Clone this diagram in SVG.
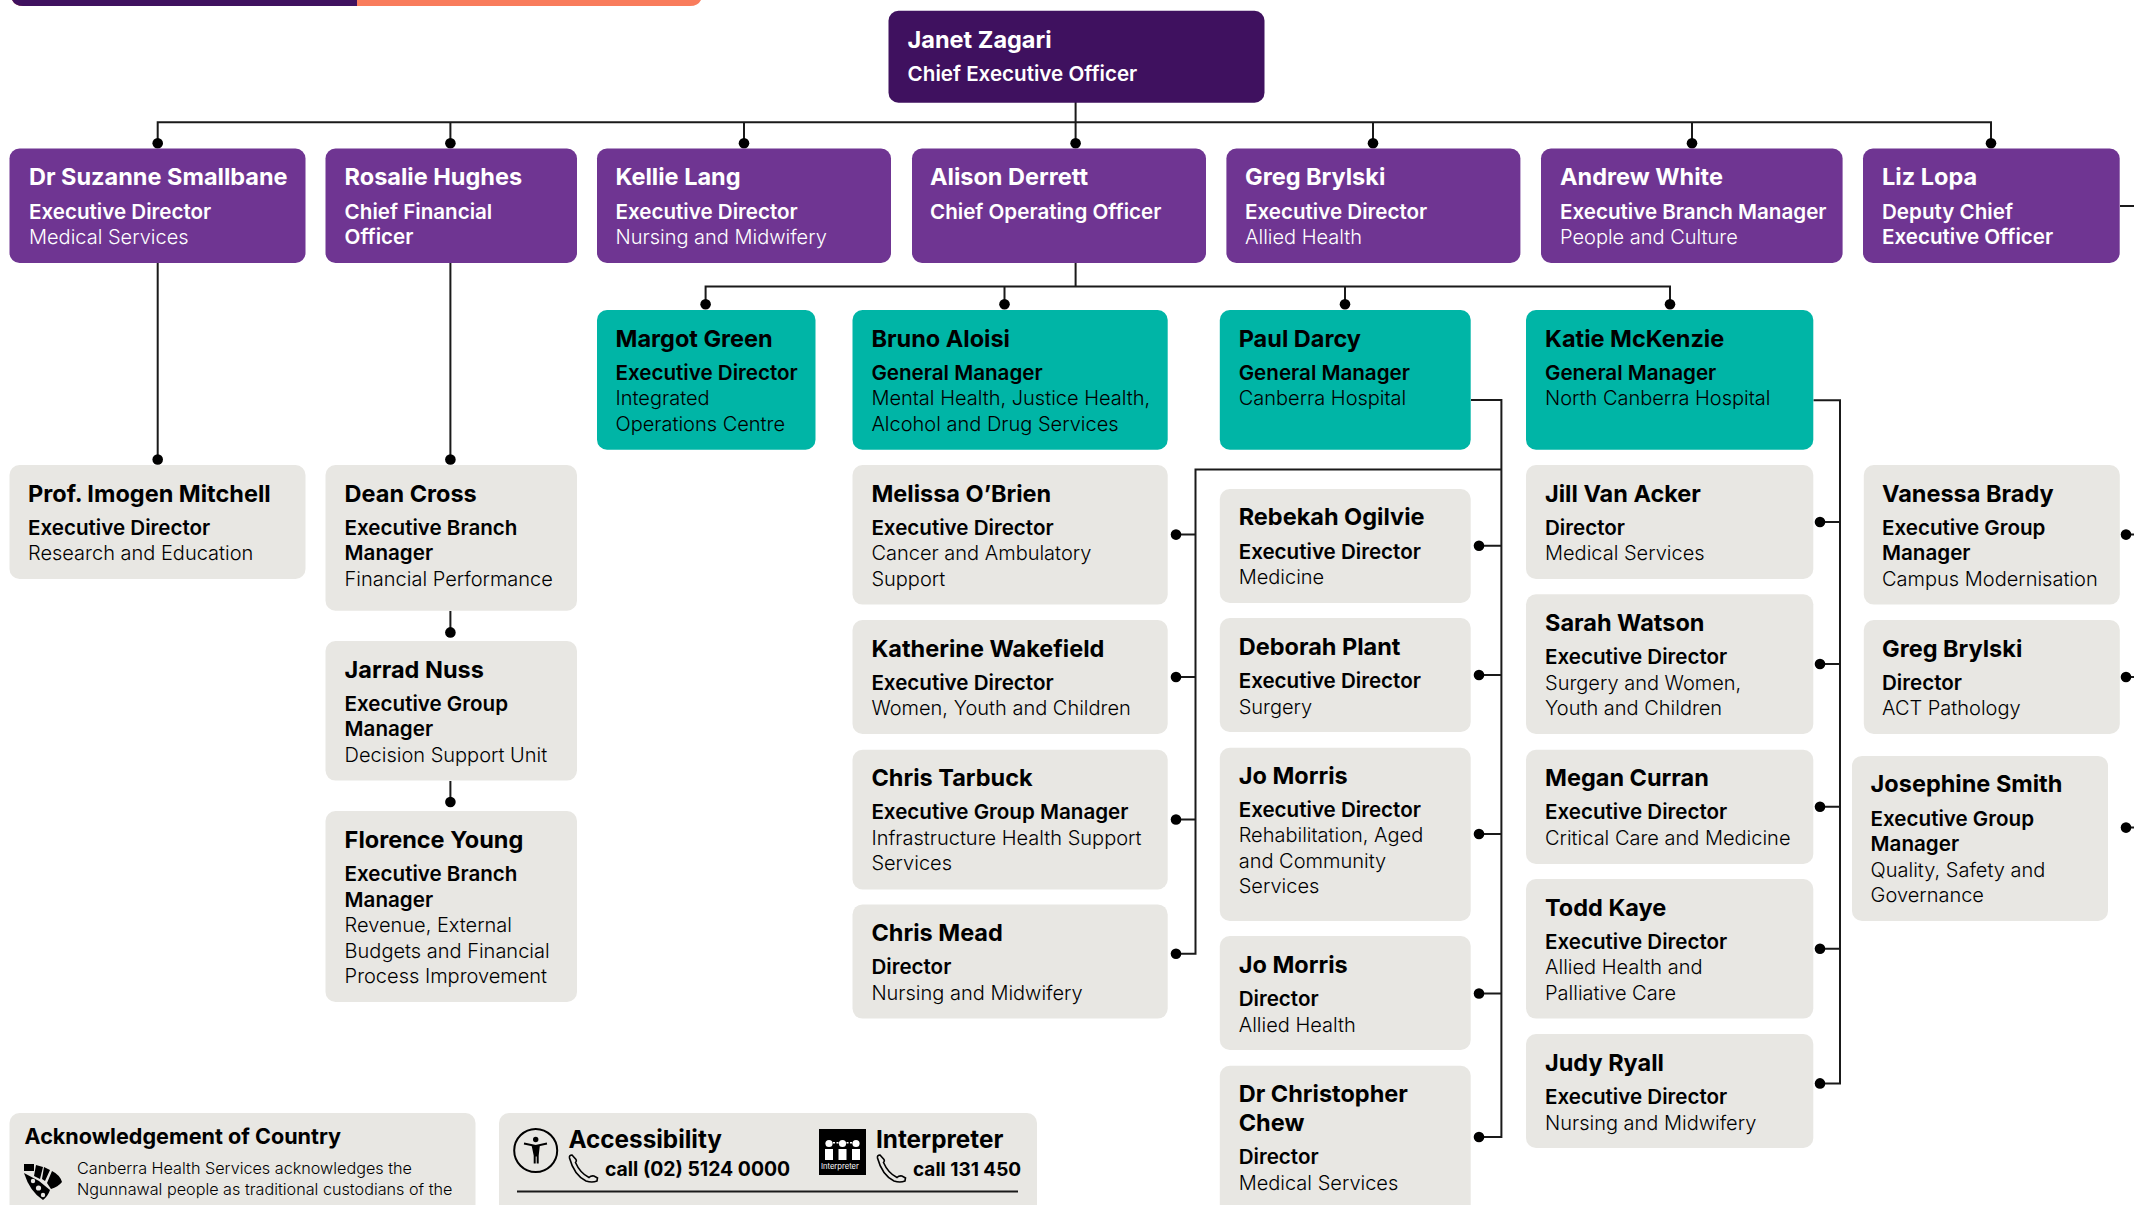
<svg xmlns="http://www.w3.org/2000/svg" width="2134" height="1205" viewBox="0 0 2134 1205">
<style>
text{font-family:Inter,"Liberation Sans",sans-serif}
.n{font-size:23.5px;font-weight:700;fill:#000}
.t{font-size:20.6px;font-weight:600;fill:#000}
.s{font-size:20px;font-weight:300;fill:#000}
.w .n,.w .t,.w .s{fill:#fff}
.ceo{fill:#3f115f}.pu{fill:#6f3592}.te{fill:#00b5a6}.gr{fill:#e8e7e3}
.l{fill:none;stroke:#1a1a1a;stroke-width:2}
.d{fill:#000}
</style>
<rect width="2134" height="1205" fill="#fff"/>
<g id="top-bar">
<path d="M12 0H701V0Q698 6 690 6H23Q15 6 12 0Z" fill="#f97c5c"/>
<path d="M12 0H357V6H23Q15 6 12 0Z" fill="#3f115f"/>
</g>
<g id="connectors">
<path class="l" d="M157.700 143V122.300H1991V143M450.400 122.300V143M744 122.300V143M1075.600 102V148M1373 122.300V143M1692 122.300V143"/>
<path class="l" d="M157.700 263V459M450.400 263V459M450.400 611V632M450.400 781V802"/>
<path class="l" d="M1075.600 263V286.600M705.600 304V286.600H1670V304M1004.500 286.600V304M1345 286.600V304"/>
<path class="l" d="M1471 400H1501.400V1137H1479M1479 545.700H1501.400M1479 675H1501.400M1479 834H1501.400M1479 993.500H1501.400"/>
<path class="l" d="M1501.400 469.600H1195.500V953.800H1176M1176 534.600H1195.500M1176 677H1195.500M1176 819.500H1195.500"/>
<path class="l" d="M1813.500 400.300H1840V1083.400H1820M1820 522H1840M1820 664H1840M1820 806.800H1840M1820 948.800H1840"/>
<path class="l" d="M2120 206H2134M2126 534.600H2134M2126 677H2134M2126 827.600H2134"/>
<g class="d">
<circle cx="157.700" cy="143.300" r="5.300"/><circle cx="450.400" cy="143.300" r="5.300"/><circle cx="744" cy="143.300" r="5.300"/><circle cx="1075.600" cy="143.300" r="5.300"/><circle cx="1373" cy="143.300" r="5.300"/><circle cx="1692" cy="143.300" r="5.300"/><circle cx="1991" cy="143.300" r="5.300"/>
<circle cx="705.600" cy="304.300" r="5.300"/><circle cx="1004.500" cy="304.300" r="5.300"/><circle cx="1345" cy="304.300" r="5.300"/><circle cx="1670" cy="304.300" r="5.300"/>
<circle cx="157.700" cy="459.500" r="5.300"/><circle cx="450.400" cy="459.500" r="5.300"/><circle cx="450.400" cy="632.400" r="5.300"/><circle cx="450.400" cy="802" r="5.300"/>
<circle cx="1176" cy="534.600" r="5.300"/><circle cx="1176" cy="677" r="5.300"/><circle cx="1176" cy="819.500" r="5.300"/><circle cx="1176" cy="953.800" r="5.300"/>
<circle cx="1479" cy="545.700" r="5.300"/><circle cx="1479" cy="675" r="5.300"/><circle cx="1479" cy="834" r="5.300"/><circle cx="1479" cy="993.500" r="5.300"/><circle cx="1479" cy="1137" r="5.300"/>
<circle cx="1820" cy="522" r="5.300"/><circle cx="1820" cy="664" r="5.300"/><circle cx="1820" cy="806.800" r="5.300"/><circle cx="1820" cy="948.800" r="5.300"/><circle cx="1820" cy="1083.400" r="5.300"/>
<circle cx="2126" cy="534.600" r="5.300"/><circle cx="2126" cy="677" r="5.300"/><circle cx="2126" cy="827.600" r="5.300"/>
</g>
</g>
<g id="janet" class="w"><rect class="ceo" x="888.500" y="10.700" width="376" height="92" rx="10"/><text class="n" x="907.600" y="48">Janet Zagari</text><text class="t" x="907.600" y="81">Chief Executive Officer</text></g>
<g id="suzanne" class="w"><rect class="pu" x="9.500" y="148.500" width="296" height="114.500" rx="10"/><text class="n" x="29" y="185">Dr Suzanne Smallbane</text><text class="t" x="29" y="219">Executive Director</text><text class="s" x="29" y="244">Medical Services</text></g>
<g id="rosalie" class="w"><rect class="pu" x="325.500" y="148.500" width="251.500" height="114.500" rx="10"/><text class="n" x="344.600" y="185">Rosalie Hughes</text><text class="t" x="344.600" y="219">Chief Financial</text><text class="t" x="344.600" y="244">Officer</text></g>
<g id="kellie" class="w"><rect class="pu" x="597" y="148.500" width="294" height="114.500" rx="10"/><text class="n" x="615.500" y="185">Kellie Lang</text><text class="t" x="615.500" y="219">Executive Director</text><text class="s" x="615.500" y="244">Nursing and Midwifery</text></g>
<g id="alison" class="w"><rect class="pu" x="912" y="148.500" width="294" height="114.500" rx="10"/><text class="n" x="930" y="185">Alison Derrett</text><text class="t" x="930" y="219">Chief Operating Officer</text></g>
<g id="greg" class="w"><rect class="pu" x="1226.400" y="148.500" width="294" height="114.500" rx="10"/><text class="n" x="1245" y="185">Greg Brylski</text><text class="t" x="1245" y="219">Executive Director</text><text class="s" x="1245" y="244">Allied Health</text></g>
<g id="andrew" class="w"><rect class="pu" x="1541" y="148.500" width="301.600" height="114.500" rx="10"/><text class="n" x="1560" y="185">Andrew White</text><text class="t" x="1560" y="219">Executive Branch Manager</text><text class="s" x="1560" y="244">People and Culture</text></g>
<g id="liz" class="w"><rect class="pu" x="1863" y="148.500" width="256.700" height="114.500" rx="10"/><text class="n" x="1882" y="185">Liz Lopa</text><text class="t" x="1882" y="219">Deputy Chief</text><text class="t" x="1882" y="244">Executive Officer</text></g>
<g id="margot"><rect class="te" x="597" y="310" width="218.500" height="139.700" rx="10"/><text class="n" x="615.500" y="347">Margot Green</text><text class="t" x="615.500" y="380">Executive Director</text><text class="s" x="615.500" y="405">Integrated</text><text class="s" x="615.500" y="431">Operations Centre</text></g>
<g id="bruno"><rect class="te" x="852.500" y="310" width="315.200" height="139.700" rx="10"/><text class="n" x="871.400" y="347">Bruno Aloisi</text><text class="t" x="871.400" y="380">General Manager</text><text class="s" x="871.400" y="405">Mental Health, Justice Health,</text><text class="s" x="871.400" y="431">Alcohol and Drug Services</text></g>
<g id="paul"><rect class="te" x="1219.800" y="310" width="250.900" height="139.700" rx="10"/><text class="n" x="1238.700" y="347">Paul Darcy</text><text class="t" x="1238.700" y="380">General Manager</text><text class="s" x="1238.700" y="405">Canberra Hospital</text></g>
<g id="katie"><rect class="te" x="1526" y="310" width="287.300" height="139.700" rx="10"/><text class="n" x="1545" y="347">Katie McKenzie</text><text class="t" x="1545" y="380">General Manager</text><text class="s" x="1545" y="405">North Canberra Hospital</text></g>
<g id="imogen"><rect class="gr" x="9.500" y="465" width="296" height="114" rx="10"/><text class="n" x="28" y="502">Prof. Imogen Mitchell</text><text class="t" x="28" y="535">Executive Director</text><text class="s" x="28" y="560">Research and Education</text></g>
<g id="dean"><rect class="gr" x="325.500" y="465" width="251.500" height="145.800" rx="10"/><text class="n" x="344.600" y="502">Dean Cross</text><text class="t" x="344.600" y="535">Executive Branch</text><text class="t" x="344.600" y="560">Manager</text><text class="s" x="344.600" y="586">Financial Performance</text></g>
<g id="jarrad"><rect class="gr" x="325.500" y="641" width="251.500" height="139.600" rx="10"/><text class="n" x="344.600" y="678">Jarrad Nuss</text><text class="t" x="344.600" y="711">Executive Group</text><text class="t" x="344.600" y="736">Manager</text><text class="s" x="344.600" y="762">Decision Support Unit</text></g>
<g id="florence"><rect class="gr" x="325.500" y="811" width="251.500" height="191" rx="10"/><text class="n" x="344.600" y="848">Florence Young</text><text class="t" x="344.600" y="881">Executive Branch</text><text class="t" x="344.600" y="907">Manager</text><text class="s" x="344.600" y="932">Revenue, External</text><text class="s" x="344.600" y="958">Budgets and Financial</text><text class="s" x="344.600" y="983">Process Improvement</text></g>
<g id="melissa"><rect class="gr" x="852.500" y="465" width="315.200" height="139.600" rx="10"/><text class="n" x="871.400" y="502">Melissa O’Brien</text><text class="t" x="871.400" y="535">Executive Director</text><text class="s" x="871.400" y="560">Cancer and Ambulatory</text><text class="s" x="871.400" y="586">Support</text></g>
<g id="katherine"><rect class="gr" x="852.500" y="620" width="315.200" height="114" rx="10"/><text class="n" x="871.400" y="657">Katherine Wakefield</text><text class="t" x="871.400" y="690">Executive Director</text><text class="s" x="871.400" y="715">Women, Youth and Children</text></g>
<g id="tarbuck"><rect class="gr" x="852.500" y="749.700" width="315.200" height="139.700" rx="10"/><text class="n" x="871.400" y="786">Chris Tarbuck</text><text class="t" x="871.400" y="819">Executive Group Manager</text><text class="s" x="871.400" y="845">Infrastructure Health Support</text><text class="s" x="871.400" y="870">Services</text></g>
<g id="mead"><rect class="gr" x="852.500" y="904.400" width="315.200" height="114.200" rx="10"/><text class="n" x="871.400" y="941">Chris Mead</text><text class="t" x="871.400" y="974">Director</text><text class="s" x="871.400" y="1000">Nursing and Midwifery</text></g>
<g id="rebekah"><rect class="gr" x="1219.800" y="489" width="250.900" height="114" rx="10"/><text class="n" x="1238.700" y="524.500">Rebekah Ogilvie</text><text class="t" x="1238.700" y="558.500">Executive Director</text><text class="s" x="1238.700" y="583.500">Medicine</text></g>
<g id="deborah"><rect class="gr" x="1219.800" y="618" width="250.900" height="114" rx="10"/><text class="n" x="1238.700" y="655">Deborah Plant</text><text class="t" x="1238.700" y="688">Executive Director</text><text class="s" x="1238.700" y="713.500">Surgery</text></g>
<g id="jomorris1"><rect class="gr" x="1219.800" y="747.800" width="250.900" height="173.200" rx="10"/><text class="n" x="1238.700" y="784">Jo Morris</text><text class="t" x="1238.700" y="817">Executive Director</text><text class="s" x="1238.700" y="842">Rehabilitation, Aged</text><text class="s" x="1238.700" y="868">and Community</text><text class="s" x="1238.700" y="893">Services</text></g>
<g id="jomorris2"><rect class="gr" x="1219.800" y="936" width="250.900" height="114" rx="10"/><text class="n" x="1238.700" y="972.500">Jo Morris</text><text class="t" x="1238.700" y="1006">Director</text><text class="s" x="1238.700" y="1032">Allied Health</text></g>
<g id="chew"><rect class="gr" x="1219.800" y="1065.700" width="250.900" height="150" rx="10"/><text class="n" x="1238.700" y="1101.500">Dr Christopher</text><text class="n" x="1238.700" y="1130.500">Chew</text><text class="t" x="1238.700" y="1164.400">Director</text><text class="s" x="1238.700" y="1190">Medical Services</text></g>
<g id="jill"><rect class="gr" x="1526" y="465" width="287.300" height="114" rx="10"/><text class="n" x="1545" y="502">Jill Van Acker</text><text class="t" x="1545" y="535">Director</text><text class="s" x="1545" y="560">Medical Services</text></g>
<g id="sarah"><rect class="gr" x="1526" y="594.300" width="287.300" height="139.700" rx="10"/><text class="n" x="1545" y="631">Sarah Watson</text><text class="t" x="1545" y="664">Executive Director</text><text class="s" x="1545" y="689.500">Surgery and Women,</text><text class="s" x="1545" y="715">Youth and Children</text></g>
<g id="megan"><rect class="gr" x="1526" y="749.700" width="287.300" height="114.300" rx="10"/><text class="n" x="1545" y="785.500">Megan Curran</text><text class="t" x="1545" y="819">Executive Director</text><text class="s" x="1545" y="845">Critical Care and Medicine</text></g>
<g id="todd"><rect class="gr" x="1526" y="879" width="287.300" height="139.600" rx="10"/><text class="n" x="1545" y="916">Todd Kaye</text><text class="t" x="1545" y="949">Executive Director</text><text class="s" x="1545" y="974">Allied Health and</text><text class="s" x="1545" y="1000">Palliative Care</text></g>
<g id="judy"><rect class="gr" x="1526" y="1034" width="287.300" height="114" rx="10"/><text class="n" x="1545" y="1071">Judy Ryall</text><text class="t" x="1545" y="1104">Executive Director</text><text class="s" x="1545" y="1130">Nursing and Midwifery</text></g>
<g id="vanessa"><rect class="gr" x="1863.800" y="465" width="256" height="139.600" rx="10"/><text class="n" x="1882" y="502">Vanessa Brady</text><text class="t" x="1882" y="535">Executive Group</text><text class="t" x="1882" y="560">Manager</text><text class="s" x="1882" y="586">Campus Modernisation</text></g>
<g id="gregb2"><rect class="gr" x="1863.800" y="620" width="256" height="114" rx="10"/><text class="n" x="1882" y="657">Greg Brylski</text><text class="t" x="1882" y="690">Director</text><text class="s" x="1882" y="715">ACT Pathology</text></g>
<g id="josephine"><rect class="gr" x="1852" y="755.900" width="256" height="165" rx="10"/><text class="n" x="1870.600" y="792">Josephine Smith</text><text class="t" x="1870.600" y="825.500">Executive Group</text><text class="t" x="1870.600" y="851">Manager</text><text class="s" x="1870.600" y="877">Quality, Safety and</text><text class="s" x="1870.600" y="902">Governance</text></g>
<g id="acknowledgement"><rect class="gr" x="9.500" y="1113" width="466" height="110" rx="10"/>
<text x="24.500" y="1144" font-size="21.600" font-weight="700">Acknowledgement of Country</text>
<text x="77" y="1174" font-size="16.200" font-weight="300">Canberra Health Services acknowledges the</text>
<text x="77" y="1195" font-size="16.200" font-weight="300">Ngunnawal people as traditional custodians of the</text>
<path d="M24 1164h10v7h-10zM36 1165l7 2-3 12-6-3zM44 1167l6 3-5 11-3-2zM52 1171Q60 1175 62 1182 58 1187 51 1189L47 1183z"/>
<path d="M24 1173L39 1181 50 1190Q48 1196 43 1200 30 1192 24 1173z"/><circle cx="33" cy="1181" r="2.200" fill="#e8e7e3"/><circle cx="38.500" cy="1188" r="2.600" fill="#e8e7e3"/><circle cx="43" cy="1195" r="2.200" fill="#e8e7e3"/>
</g>
<g id="accessibility"><rect class="gr" x="499" y="1113" width="538" height="110" rx="10"/>
<path d="M517 1191.400H1018" class="l"/>
<circle cx="535.700" cy="1150.500" r="21.500" fill="none" stroke="#000" stroke-width="2"/>
<circle cx="535.700" cy="1139.500" r="2.700"/><path d="M524 1143.500L535.700 1146 547 1143.500" fill="none" stroke="#000" stroke-width="1.800"/><path d="M531.500 1145h8.400l-1.200 10.500v8h-2v-7h-1v7h-2v-8z"/>
<text x="568.400" y="1147.500" font-size="24.300" font-weight="700">Accessibility</text>
<path id="ph" d="M569.500 1158Q569 1155 572 1155L576 1159.500Q577 1161 575.500 1162.500 580 1173 589 1177.500 591 1175.500 594 1176L597.500 1178 597 1181Q592 1183 586 1181 574 1175 569.500 1158Z" fill="none" stroke="#000" stroke-width="1.600"/>
<text x="605" y="1175.600" font-size="19.400" font-weight="700">call (02) 5124 0000</text>
<rect x="819" y="1129" width="47" height="46"/>
<g fill="#fff"><circle cx="829" cy="1143.500" r="3.600"/><circle cx="842.500" cy="1143.500" r="3.600"/><circle cx="856" cy="1143.500" r="3.600"/><path d="M825 1149h8v11h-8zM838.500 1149h8v11h-8zM852 1149h8v11h-8zM833 1142h2v1.500h-2zM836.500 1142h2v1.500h-2zM846.500 1142h2v1.500h-2zM850 1142h2v1.500h-2z"/></g>
<text x="821" y="1168.500" font-size="7.600" fill="#fff">Interpreter</text>
<text x="876" y="1148" font-size="24.300" font-weight="700">Interpreter</text>
<use href="#ph" x="308"/>
<text x="913" y="1175.600" font-size="19" font-weight="700">call 131 450</text>
</g>
</svg>
